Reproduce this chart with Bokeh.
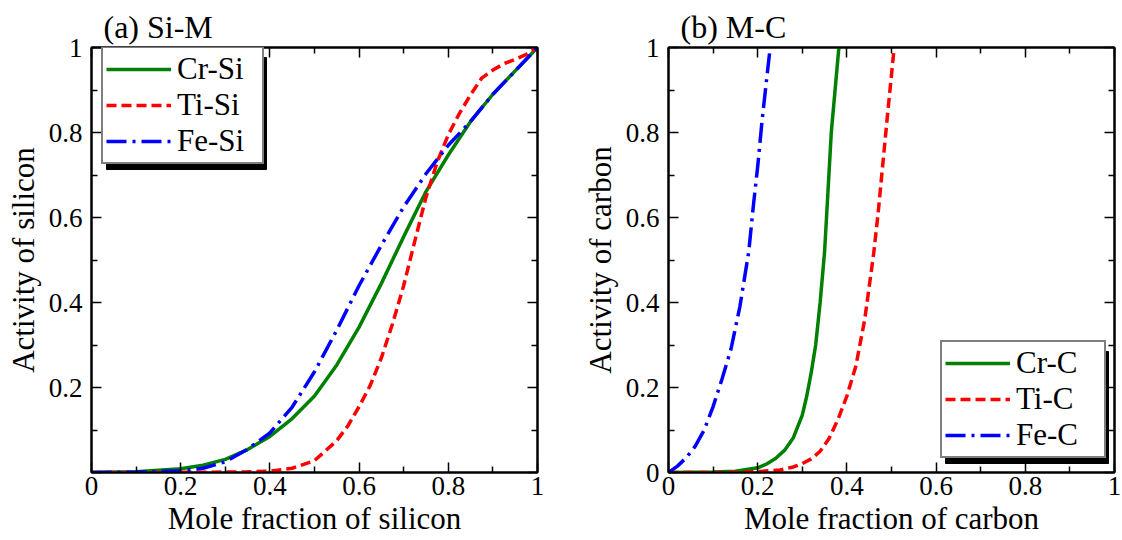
from bokeh.plotting import figure
from bokeh.models import FixedTicker, LinearAxis, Legend, LegendItem, BoxAnnotation, Range1d
from bokeh.layouts import row
from bokeh.embed import file_html
from bokeh.resources import INLINE

# ---------------- data ----------------
tick_values = [0, 0.2, 0.4, 0.6, 0.8, 1]
minor_values = [0.1, 0.3, 0.5, 0.7, 0.9]
x_tick_labels = ["0", "0.2", "0.4", "0.6", "0.8", "1"]
y_tick_labels_a = ["", "0.2", "0.4", "0.6", "0.8", "1"]
y_tick_labels_b = ["0", "0.2", "0.4", "0.6", "0.8", "1"]

# (a) Si-M
cr_si_x = [0, 0.1, 0.2, 0.25, 0.3, 0.35, 0.4, 0.45, 0.5, 0.55, 0.6, 0.65, 0.7, 0.75, 0.8, 0.85, 0.9, 0.95, 1.0]
cr_si_a = [0, 0.002, 0.009, 0.017, 0.031, 0.054, 0.085, 0.127, 0.18, 0.253, 0.342, 0.445, 0.555, 0.661, 0.747, 0.826, 0.89, 0.945, 1.0]

ti_si_x = [0, 0.1, 0.2, 0.3, 0.35, 0.4, 0.45, 0.5, 0.55, 0.575, 0.6, 0.625, 0.65, 0.675, 0.7, 0.725, 0.75,
           0.775, 0.8, 0.825, 0.85, 0.875, 0.9, 0.925, 0.95, 0.975, 1.0]
ti_si_a = [0, 0, 0.0003, 0.001, 0.0015, 0.003, 0.01, 0.028, 0.075, 0.11, 0.155, 0.205, 0.27, 0.35, 0.44, 0.545, 0.648,
           0.73, 0.795, 0.845, 0.889, 0.928, 0.947, 0.962, 0.972, 0.984, 1.0]

fe_si_x = [0, 0.1, 0.2, 0.25, 0.3, 0.35, 0.4, 0.45, 0.5, 0.55, 0.6, 0.65, 0.7, 0.75, 0.8, 0.85, 0.9, 0.95, 1.0]
fe_si_a = [0, 0.001, 0.004, 0.01, 0.025, 0.055, 0.093, 0.154, 0.237, 0.335, 0.44, 0.535, 0.625, 0.703, 0.77, 0.826, 0.89, 0.945, 1.0]

# (b) M-C
cr_c_x = [0, 0.05, 0.1, 0.15, 0.2, 0.22, 0.24, 0.26, 0.28, 0.3, 0.31, 0.32, 0.33, 0.34, 0.35, 0.365, 0.382]
cr_c_a = [0, 0.0005, 0.001, 0.003, 0.011, 0.02, 0.033, 0.052, 0.082, 0.135, 0.18, 0.235, 0.3, 0.4, 0.52, 0.8, 1.0]

ti_c_x = [0, 0.1, 0.15, 0.2, 0.25, 0.28, 0.3, 0.32, 0.34, 0.36, 0.38, 0.40, 0.42, 0.44, 0.46, 0.47, 0.48, 0.49, 0.506]
ti_c_a = [0, 0, 0.0005, 0.002, 0.006, 0.013, 0.021, 0.032, 0.05, 0.08, 0.125, 0.18, 0.25, 0.36, 0.515, 0.61, 0.72, 0.83, 1.0]

fe_c_x = [0, 0.02, 0.04, 0.06, 0.08, 0.10, 0.12, 0.14, 0.16, 0.18, 0.19, 0.20, 0.21, 0.22, 0.228]
fe_c_a = [0, 0.015, 0.035, 0.062, 0.1, 0.155, 0.22, 0.29, 0.39, 0.52, 0.625, 0.72, 0.83, 0.925, 1.0]

FONT = "Liberation Serif"
GREEN = "#008000"
RED = "#ff0000"
BLUE = "#0000ff"

FW, FH = 446, 425


def style_axis(ax, labels, show):
    ax.ticker = FixedTicker(ticks=tick_values, minor_ticks=minor_values)
    ax.major_label_overrides = {v: (l if show else "") for v, l in zip(tick_values, labels)}
    ax.major_label_text_font = FONT
    ax.major_label_text_font_size = "27px" if show else "0px"
    ax.major_label_text_color = "black"
    ax.major_tick_in = 10
    ax.major_tick_out = 0
    ax.minor_tick_in = 6
    ax.minor_tick_out = 0
    ax.major_tick_line_width = 1.5
    ax.minor_tick_line_width = 1.5
    ax.major_tick_line_color = "black"
    ax.minor_tick_line_color = "black"
    ax.axis_line_width = 2
    ax.axis_line_color = "black"
    ax.axis_label_text_font = FONT
    ax.axis_label_text_font_size = "31px"
    ax.axis_label_text_font_style = "normal"
    ax.axis_label_text_color = "black"
    if not show:
        ax.major_label_standoff = 0


def make_fig(title, xlabel, ylabel, ylabels, mbr):
    p = figure(frame_width=FW, frame_height=FH, x_range=Range1d(0, 1), y_range=Range1d(0, 1),
               output_backend="svg", toolbar_location=None,
               min_border_left=91, min_border_top=47, min_border_bottom=67, min_border_right=mbr,
               title=title)
    p.title.text_font = FONT
    p.title.text_font_size = "32px"
    p.title.text_font_style = "normal"
    p.title.text_color = "black"
    p.title.align = "left"
    p.title.offset = 12
    p.title.standoff = 6
    p.xgrid.visible = False
    p.ygrid.visible = False
    p.outline_line_color = "black"
    p.outline_line_width = 2
    p.background_fill_color = "white"
    p.border_fill_color = "white"

    style_axis(p.xaxis[0], x_tick_labels, True)
    p.xaxis[0].axis_label = xlabel
    p.xaxis[0].major_label_standoff = 4
    p.xaxis[0].axis_label_standoff = 3
    style_axis(p.yaxis[0], ylabels, True)
    p.yaxis[0].axis_label = ylabel
    p.yaxis[0].major_label_standoff = 9
    p.yaxis[0].axis_label_standoff = 5

    top = LinearAxis()
    style_axis(top, x_tick_labels, False)
    p.add_layout(top, "above")
    right = LinearAxis()
    style_axis(right, ylabels, False)
    p.add_layout(right, "right")
    return p


def add_legend(p, items, x, y, w, h, label_width):
    shadow = BoxAnnotation(left=x + 5, right=x + w + 5, bottom=y - 5, top=y + h - 5,
                           left_units="screen", right_units="screen",
                           bottom_units="screen", top_units="screen",
                           fill_color="black", fill_alpha=1.0, line_color="black", line_alpha=1.0)
    p.add_layout(shadow)
    leg = Legend(items=items, location=(x, y))
    leg.label_text_font = FONT
    leg.label_text_font_size = "31px"
    leg.label_text_color = "black"
    leg.glyph_width = 65
    leg.glyph_height = 20
    leg.label_standoff = 6
    leg.label_width = label_width
    leg.padding = 3
    leg.spacing = -8
    leg.margin = 0
    leg.border_line_color = "black"
    leg.border_line_width = 2
    leg.background_fill_color = "white"
    leg.background_fill_alpha = 1.0
    p.add_layout(leg, "center")


pa = make_fig("(a) Si-M", "Mole fraction of silicon", "Activity of silicon", y_tick_labels_a, 40)
r1 = pa.line(cr_si_x, cr_si_a, line_color=GREEN, line_width=3.5)
r2 = pa.line(ti_si_x, ti_si_a, line_color=RED, line_width=3.5, line_dash="10 5")
r3 = pa.line(fe_si_x, fe_si_a, line_color=BLUE, line_width=3.5, line_dash="20 6 3 6")
add_legend(pa, [LegendItem(label="Cr-Si", renderers=[r1]),
                LegendItem(label="Ti-Si", renderers=[r2]),
                LegendItem(label="Fe-Si", renderers=[r3])],
           10, 308, 160, 112, 82)

pb = make_fig("(b) M-C", "Mole fraction of carbon", "Activity of carbon", y_tick_labels_b, 9)
s1 = pb.line(cr_c_x, cr_c_a, line_color=GREEN, line_width=3.5)
s2 = pb.line(ti_c_x, ti_c_a, line_color=RED, line_width=3.5, line_dash="10 5")
s3 = pb.line(fe_c_x, fe_c_a, line_color=BLUE, line_width=3.5, line_dash="20 6 3 6")
add_legend(pb, [LegendItem(label="Cr-C", renderers=[s1]),
                LegendItem(label="Ti-C", renderers=[s2]),
                LegendItem(label="Fe-C", renderers=[s3])],
           272, 14, 163, 112, 85)

layout = row(pa, pb, spacing=0)
open("out.html", "w").write(file_html(layout, INLINE))
